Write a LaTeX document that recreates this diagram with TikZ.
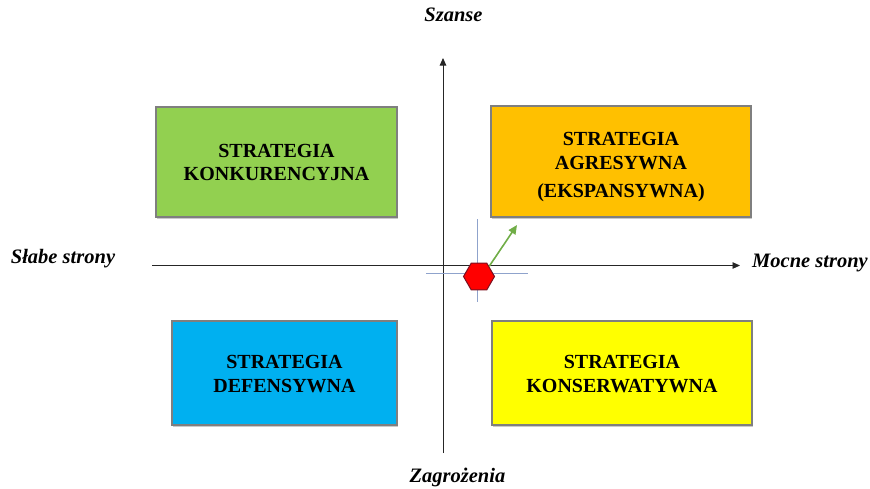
\documentclass[tikz,border=0pt]{standalone}
\usepackage{fontspec}
\setmainfont{Liberation Serif}
\usetikzlibrary{arrows.meta,shapes.geometric,shadows}
\definecolor{bxgreen}{HTML}{92D050}
\definecolor{bxorange}{HTML}{FFC000}
\definecolor{bxblue}{HTML}{00B0F0}
\definecolor{bxyellow}{HTML}{FFFF00}
\definecolor{bxborder}{HTML}{7F7F7F}
\definecolor{crossc}{HTML}{8FA3CC}
\definecolor{arrgreen}{HTML}{70AD47}
\definecolor{hexred}{HTML}{FF0000}
\definecolor{hexborder}{HTML}{7A1020}
\tikzset{
  stratbox/.style={draw=bxborder, line width=1.1pt, rectangle, inner sep=0pt,
    drop shadow={shadow xshift=1.2pt, shadow yshift=-1.5pt, fill=black!35, opacity=0.6}},
  boxtext/.style={align=center, text=black, inner sep=0pt,
    font=\fontsize{20}{23.5}\selectfont\bfseries},
  axislabel/.style={font=\fontsize{20.5}{22}\selectfont\bfseries\itshape, inner sep=0pt},
  axisline/.style={line width=0.9pt, black!85, -{Triangle[length=7.5pt,width=6.5pt]}},
  crossline/.style={line width=1pt, crossc},
}
\begin{document}
\begin{tikzpicture}[x=1pt,y=-1pt]
\useasboundingbox (0,0) rectangle (870,488);
% axes
\coordinate (vb) at (443,453);
\coordinate (vt) at (443,58);
\coordinate (hl) at (152,265.5);
\coordinate (hr) at (740,265.5);
\draw[axisline] (vb) -- (vt);
\draw[axisline] (hl) -- (hr);
% axis labels
\node[axislabel, anchor=base] (szanse) at (453.5,21) {Szanse};
\node[axislabel, anchor=base] (zagr) at (457.5,482) {Zagrożenia};
\node[axislabel, anchor=base] (slabe) at (63,263) {Słabe strony};
\node[axislabel, anchor=base west] (mocne) at (752,267) {Mocne strony};
% boxes
\node[stratbox, fill=bxgreen, minimum width=241pt, minimum height=110pt] (konk) at (276.5,162) {};
\node[stratbox, fill=bxorange, minimum width=260pt, minimum height=111pt] (agr) at (621,161.5) {};
\node[stratbox, fill=bxblue, minimum width=225pt, minimum height=104pt] (def) at (284.5,373) {};
\node[stratbox, fill=bxyellow, minimum width=260pt, minimum height=104pt] (kons) at (622,373) {};
% box texts (anchor = baseline of last line)
\node[boxtext, anchor=base] (konkt) at (276.5,180.5) {STRATEGIA\\KONKURENCYJNA};
\node[boxtext, anchor=base] (agrt) at (621,197) {STRATEGIA\\AGRESYWNA\\[4.5pt](EKSPANSYWNA)};
\node[boxtext, anchor=base] (deft) at (284.5,392) {STRATEGIA\\DEFENSYWNA};
\node[boxtext, anchor=base] (konst) at (622,392) {STRATEGIA\\KONSERWATYWNA};
% crosshair
\coordinate (cv1) at (477,219);
\coordinate (cv2) at (477,302);
\coordinate (ch1) at (426,273);
\coordinate (ch2) at (528,273);
\draw[crossline] (cv1) -- (cv2);
\draw[crossline] (ch1) -- (ch2);
% hexagon
\node[regular polygon, regular polygon sides=6, minimum size=31pt, inner sep=0pt,
      fill=hexred, draw=hexborder, line width=1pt] (hex) at (479,276.5) {};
% green arrow
\coordinate (gtip) at (517,225);
\draw[line width=1.6pt, arrgreen, -{Triangle[length=9pt,width=8pt]}] (hex.north east) -- (gtip);
\end{tikzpicture}
\end{document}
